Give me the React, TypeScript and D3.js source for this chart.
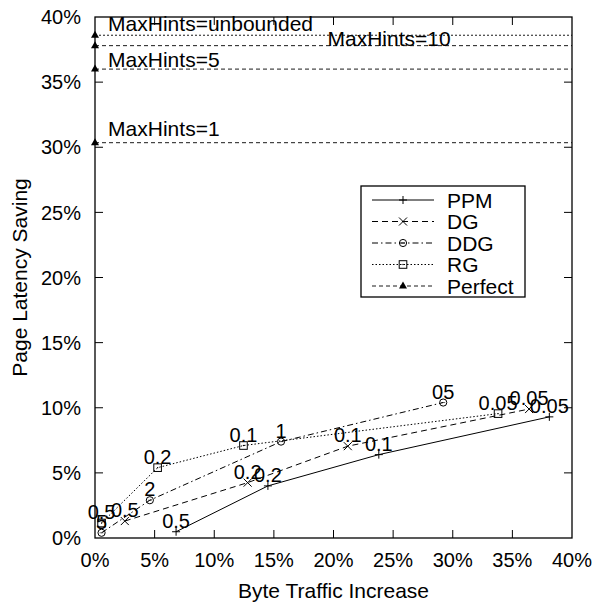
import React, { useEffect, useRef } from "react";
import * as d3 from "d3";

// axis ticks (percent)
const xTicks = [0, 5, 10, 15, 20, 25, 30, 35, 40];
const yTicks = [0, 5, 10, 15, 20, 25, 30, 35, 40];

// series: byte traffic increase (x) vs page latency saving (y), both in %
const ppmX = [6.8, 14.5, 23.8, 38.1];
const ppmY = [0.48, 4.0, 6.4, 9.3];
const ppmLabels = ["0.5", "0.2", "0.1", "0.05"];

const dgX = [2.5, 12.8, 21.2, 36.4];
const dgY = [1.3, 4.25, 7.05, 9.9];
const dgLabels = ["0.5", "0.2", "0.1", "0.05"];

const ddgX = [0.55, 4.6, 15.6, 29.2];
const ddgY = [0.4, 2.9, 7.4, 10.4];
const ddgLabels = ["5", "2", "1", "05"];

const rgX = [0.55, 5.25, 12.45, 33.8];
const rgY = [1.15, 5.4, 7.1, 9.55];
const rgLabels = ["0.5", "0.2", "0.1", "0.05"];

// "Perfect" upper bounds
const perfectY = [30.35, 36.0, 37.8, 38.6];
const perfectLabels = ["MaxHints=1", "MaxHints=5", "MaxHints=10", "MaxHints=unbounded"];
const perfectLabelX = [1.1, 1.1, 19.5, 1.1];
const perfectLabelY = [30.9, 36.15, 37.8, 38.95];

const legendNames = ["PPM", "DG", "DDG", "RG", "Perfect"];

function App() {
    const width = 595;
    const height = 605;
    const margin = { top: 17, right: 23, bottom: 67, left: 95 };
    const font = "'Liberation Sans', Arial, Helvetica, sans-serif";

    const svgRef = useRef<SVGSVGElement>(null);

    useEffect(() => {
        const svg = d3.select(svgRef.current);
        svg.selectAll("*").remove();

        const x = d3.scaleLinear().domain([0, 40]).range([margin.left, width - margin.right]);
        const y = d3.scaleLinear().domain([0, 40]).range([height - margin.bottom, margin.top]);

        const g = svg.append("g")
            .attr("font-family", font)
            .attr("font-size", 20)
            .attr("fill", "black");

        // Mirrored inward ticks on all four sides.
        const tickLen = 8;
        const x0 = x(0), x1 = x(40), y0 = y(0), y1 = y(40);
        xTicks.slice(1, -1).forEach(t => {
            g.append("line").attr("x1", x(t)).attr("x2", x(t)).attr("y1", y0).attr("y2", y0 - tickLen).attr("stroke", "black");
            g.append("line").attr("x1", x(t)).attr("x2", x(t)).attr("y1", y1).attr("y2", y1 + tickLen).attr("stroke", "black");
        });
        yTicks.slice(1, -1).forEach(t => {
            g.append("line").attr("x1", x0).attr("x2", x0 + tickLen).attr("y1", y(t)).attr("y2", y(t)).attr("stroke", "black");
            g.append("line").attr("x1", x1).attr("x2", x1 - tickLen).attr("y1", y(t)).attr("y2", y(t)).attr("stroke", "black");
        });

        // Tick labels
        g.selectAll("text.xt")
            .data(xTicks)
            .join("text")
            .attr("class", "xt")
            .attr("x", d => x(d))
            .attr("y", y0 + 29)
            .attr("text-anchor", "middle")
            .text(d => `${d}%`);

        g.selectAll("text.yt")
            .data(yTicks)
            .join("text")
            .attr("class", "yt")
            .attr("x", x0 - 14)
            .attr("y", d => y(d))
            .attr("dy", "0.36em")
            .attr("text-anchor", "end")
            .text(d => `${d}%`);

        // Axis titles
        g.append("text")
            .attr("x", (x0 + x1) / 2)
            .attr("y", height - 7)
            .attr("font-size", 21)
            .attr("text-anchor", "middle")
            .text("Byte Traffic Increase");

        g.append("text")
            .attr("transform", `translate(27,${(y0 + y1) / 2}) rotate(-90)`)
            .attr("font-size", 21)
            .attr("text-anchor", "middle")
            .text("Page Latency Saving");

        // Marker shapes
        const s = 4;
        const drawMarker = (sel: any, type: string, cx: number, cy: number) => {
            if (type === "plus") {
                sel.append("path").attr("d", `M${cx - s},${cy}H${cx + s}M${cx},${cy - s}V${cy + s}`)
                    .attr("stroke", "black").attr("fill", "none");
            } else if (type === "cross") {
                sel.append("path").attr("d", `M${cx - s},${cy - s}L${cx + s},${cy + s}M${cx - s},${cy + s}L${cx + s},${cy - s}`)
                    .attr("stroke", "black").attr("fill", "none");
            } else if (type === "circle") {
                sel.append("circle").attr("cx", cx).attr("cy", cy).attr("r", 3.6)
                    .attr("stroke", "black").attr("fill", "none");
                sel.append("line").attr("x1", cx - 2).attr("x2", cx + 2).attr("y1", cy).attr("y2", cy)
                    .attr("stroke", "black").attr("stroke-width", 0.6);
            } else if (type === "square") {
                sel.append("rect").attr("x", cx - 3.8).attr("y", cy - 3.8).attr("width", 7.6).attr("height", 7.6)
                    .attr("stroke", "black").attr("fill", "none");
                sel.append("rect").attr("x", cx - 0.6).attr("y", cy - 0.6).attr("width", 1.2).attr("height", 1.2)
                    .attr("fill", "black");
            } else if (type === "triangle") {
                sel.append("path").attr("d", `M${cx},${cy - 4.5}L${cx + 4},${cy + 2.5}L${cx - 4},${cy + 2.5}Z`)
                    .attr("fill", "black");
            }
        };

        const series = [
            { xs: ppmX, ys: ppmY, labels: ppmLabels, dash: null, marker: "plus" },
            { xs: dgX, ys: dgY, labels: dgLabels, dash: "6,4", marker: "cross" },
            { xs: ddgX, ys: ddgY, labels: ddgLabels, dash: "6,3,1.5,3", marker: "circle" },
            { xs: rgX, ys: rgY, labels: rgLabels, dash: "1.5,2", marker: "square" },
        ];

        // Perfect bounds: dashed horizontal lines with triangle at x = 0
        const perfectDash = ["4,3", "4,3", "4,3", "2,2"];
        perfectY.forEach((v, i) => {
            g.append("line")
                .attr("x1", x(0)).attr("x2", x(40)).attr("y1", y(v)).attr("y2", y(v))
                .attr("stroke", "black").attr("stroke-width", 0.9)
                .attr("stroke-dasharray", perfectDash[i]);
            drawMarker(g, "triangle", x(0), y(v));
            g.append("text")
                .attr("x", x(perfectLabelX[i]))
                .attr("y", y(perfectLabelY[i]))
                .attr("font-size", 21)
                .text(perfectLabels[i]);
        });

        series.forEach(sr => {
            const pts = sr.xs.map((d, i) => [x(d), y(sr.ys[i])] as [number, number]);
            g.append("path")
                .attr("d", d3.line()(pts))
                .attr("fill", "none")
                .attr("stroke", "black")
                .attr("stroke-width", 1)
                .attr("stroke-dasharray", sr.dash);
            pts.forEach(p => drawMarker(g, sr.marker, p[0], p[1]));
            g.selectAll(null)
                .data(pts)
                .join("text")
                .attr("x", d => d[0])
                .attr("y", d => d[1] - 4)
                .attr("text-anchor", "middle")
                .text((d, i) => sr.labels[i]);
        });

        // Border
        g.append("rect")
            .attr("x", x0).attr("y", y1)
            .attr("width", x1 - x0).attr("height", y0 - y1)
            .attr("fill", "none").attr("stroke", "black").attr("stroke-width", 1.3);

        // Legend
        const lg = g.append("g").attr("font-size", 21);
        const lgLeft = 361, lgTop = 186, lgRow = 21.5;
        lg.append("rect")
            .attr("x", lgLeft).attr("y", lgTop)
            .attr("width", 164).attr("height", 111)
            .attr("fill", "white").attr("stroke", "black").attr("stroke-width", 1.3);
        const legendStyles = [
            { dash: null, marker: "plus" },
            { dash: "6,4", marker: "cross" },
            { dash: "6,3,1.5,3", marker: "circle" },
            { dash: "1.5,2", marker: "square" },
            { dash: "4,3", marker: "triangle" },
        ];
        legendNames.forEach((name, i) => {
            const cy = lgTop + 14 + i * lgRow;
            lg.append("line")
                .attr("x1", lgLeft + 11).attr("x2", lgLeft + 73)
                .attr("y1", cy).attr("y2", cy)
                .attr("stroke", "black").attr("stroke-width", i === 4 ? 0.9 : 1)
                .attr("stroke-dasharray", legendStyles[i].dash);
            drawMarker(lg, legendStyles[i].marker, lgLeft + 42, cy);
            lg.append("text")
                .attr("x", lgLeft + 86)
                .attr("y", cy)
                .attr("dy", "0.36em")
                .text(name);
        });
    }, []);

    return (
        <svg
            ref={svgRef}
            width={width}
            height={height}
            style={{ position: "absolute", left: 0, top: 0, background: "white" }}
        ></svg>
    );
}

export default App;
